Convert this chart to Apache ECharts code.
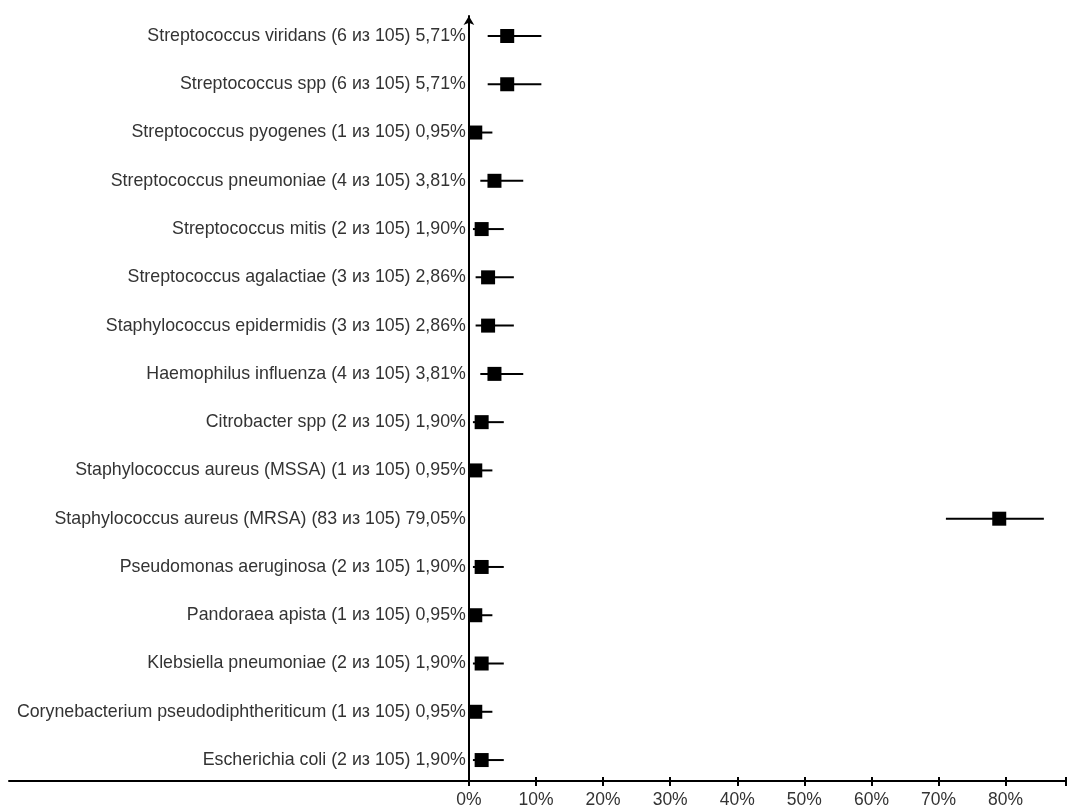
<!DOCTYPE html>
<html>
<head>
<meta charset="utf-8">
<script src="https://cdn.jsdelivr.net/npm/echarts@6/dist/echarts.min.js"></script>
<style>html,body{margin:0;padding:0;background:#fff}#c{width:1068px;height:809px}</style>
</head>
<body>
<div id="c"></div>
<script>
var labels = [
  "Streptococcus viridans (6 из 105) 5,71%",
  "Streptococcus spp (6 из 105) 5,71%",
  "Streptococcus pyogenes (1 из 105) 0,95%",
  "Streptococcus pneumoniae (4 из 105) 3,81%",
  "Streptococcus mitis (2 из 105) 1,90%",
  "Streptococcus agalactiae (3 из 105) 2,86%",
  "Staphylococcus epidermidis (3 из 105) 2,86%",
  "Haemophilus influenza (4 из 105) 3,81%",
  "Citrobacter spp (2 из 105) 1,90%",
  "Staphylococcus aureus (MSSA) (1 из 105) 0,95%",
  "Staphylococcus aureus (MRSA) (83 из 105) 79,05%",
  "Pseudomonas aeruginosa (2 из 105) 1,90%",
  "Pandoraea apista (1 из 105) 0,95%",
  "Klebsiella pneumoniae (2 из 105) 1,90%",
  "Corynebacterium pseudodiphtheriticum (1 из 105) 0,95%",
  "Escherichia coli (2 из 105) 1,90%"
];
var estimate = [5.71,5.71,0.95,3.81,1.90,2.86,2.86,3.81,1.90,0.95,79.05,1.90,0.95,1.90,0.95,1.90];
var ciLow  = [2.8,2.8,0.2,1.7,0.6,1.0,1.0,1.7,0.6,0.2,71.1,0.6,0.2,0.6,0.2,0.6];
var ciHigh = [10.8,10.8,3.5,8.1,5.2,6.7,6.7,8.1,5.2,3.5,85.7,5.2,3.5,5.2,3.5,5.2];
var xTicks = [0,10,20,30,40,50,60,70,80];

var rowIdx = labels.map(function(_, i){ return i; });
var pointData = estimate.map(function(v, i){ return [v, i]; });
var ciData = ciLow.map(function(v, i){ return [v, ciHigh[i], i]; });

var FONT = 'Liberation Sans, Arial, sans-serif';
var X_MIN = -68.55, X_MAX = 89;
var GRID_LEFT = 9, GRID_RIGHT = 2;
var chart = echarts.init(document.getElementById('c'), null, {renderer: 'canvas'});
var plotW = 1068 - GRID_LEFT - GRID_RIGHT;
var zeroOffset = -plotW * (0 - X_MIN) / (X_MAX - X_MIN);
chart.setOption({
  animation: false,
  textStyle: {fontFamily: FONT},
  grid: {left: GRID_LEFT, right: GRID_RIGHT, top: 16, bottom: 28, containLabel: false, outerBoundsMode: 'none'},
  xAxis: [{
    type: 'value', min: X_MIN, max: X_MAX, position: 'bottom',
    splitLine: {show: false},
    axisLine: {show: true, onZero: false, lineStyle: {color: '#000', width: 2}},
    axisTick: {show: true, customValues: xTicks.concat([X_MAX]), length: 5, lineStyle: {color: '#000', width: 2}},
    axisLabel: {show: true, customValues: xTicks, margin: 10, fontSize: 17.5, color: '#333',
      fontFamily: FONT,
      formatter: function(v){ return v + '%'; }}
  }, {
    type: 'value', min: X_MIN, max: X_MAX, position: 'bottom',
    splitLine: {show: false},
    axisLine: {show: false, onZero: false},
    axisTick: {show: true, inside: true, customValues: xTicks.concat([X_MAX]), length: 4, lineStyle: {color: '#000', width: 2}},
    axisLabel: {show: false}
  }],
  yAxis: {
    type: 'value', inverse: true, min: -0.414, max: 15.434,
    position: 'left', offset: zeroOffset,
    splitLine: {show: false},
    axisLine: {show: true, onZero: false, symbol: ['none', 'arrow'], symbolSize: [8, 9],
      lineStyle: {color: '#000', width: 2}},
    axisTick: {show: false},
    axisLabel: {show: true, customValues: rowIdx, margin: 3, fontSize: 17.8, color: '#333',
      fontFamily: FONT,
      formatter: function(v){ return labels[Math.round(v)] || ''; }}
  },
  series: [{
    type: 'custom',
    xAxisIndex: 0,
    data: ciData,
    renderItem: function(params, api){
      var a = api.coord([api.value(0), api.value(2)]);
      var b = api.coord([api.value(1), api.value(2)]);
      return {type: 'line', shape: {x1: a[0], y1: a[1], x2: b[0], y2: b[1]},
        style: {stroke: '#000', lineWidth: 2}};
    },
    z: 2
  }, {
    type: 'scatter',
    xAxisIndex: 0,
    data: pointData,
    symbol: 'rect',
    symbolSize: 14,
    itemStyle: {color: '#000', opacity: 1},
    z: 3
  }]
});
</script>
</body>
</html>
